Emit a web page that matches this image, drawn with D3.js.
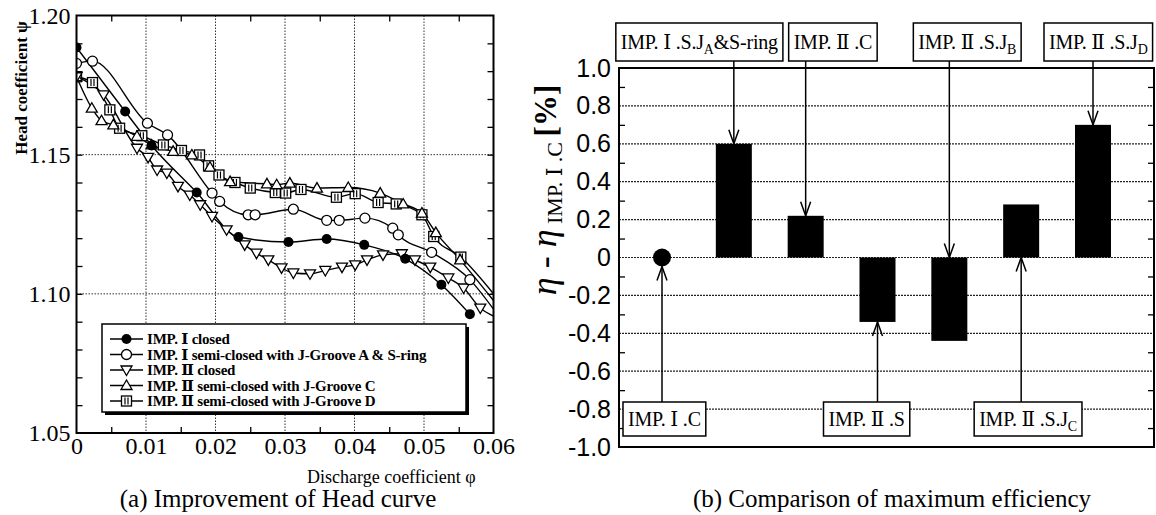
<!DOCTYPE html>
<html>
<head>
<meta charset="utf-8">
<script src="https://cdn.jsdelivr.net/npm/d3@7/dist/d3.min.js"></script>
<style>
body { margin: 0; background: #fff; }
svg { display: block; }
</style>
</head>
<body>
<script>
// ---------- (a) head curves: discharge coefficient phi vs head coefficient psi
var phiClosed1 = [0, 0.0070, 0.0108, 0.0173, 0.0233, 0.0305, 0.0360, 0.0414, 0.0473, 0.0525, 0.0566];
var psiClosed1 = [1.1885, 1.1655, 1.1533, 1.1364, 1.1204, 1.1186, 1.1197, 1.1176, 1.1126, 1.1033, 1.0927];

var phiSemi1A = [0, 0.0023, 0.0102, 0.0131, 0.0195, 0.0206, 0.0247, 0.0257, 0.0312, 0.0360, 0.0378, 0.0415, 0.0455, 0.0463, 0.0511, 0.0566, 0.0600];
var psiSemi1A = [1.1828, 1.1836, 1.1613, 1.1571, 1.1362, 1.1332, 1.1284, 1.1284, 1.1304, 1.1264, 1.1264, 1.1272, 1.1236, 1.1212, 1.1149, 1.1051, 1.0945];

var phiClosed2 = [0, 0.0039, 0.0087, 0.0103, 0.0116, 0.0130, 0.0146, 0.0163, 0.0178, 0.0195, 0.0216, 0.0242, 0.0259, 0.0276, 0.0295, 0.0312, 0.0336, 0.0358, 0.0382, 0.0401, 0.0418, 0.0441, 0.0468, 0.0487, 0.0509, 0.0535, 0.0557, 0.0581, 0.0600];
var psiClosed2 = [1.1780, 1.1715, 1.1523, 1.1490, 1.1445, 1.1434, 1.1386, 1.1355, 1.1320, 1.1278, 1.1230, 1.1176, 1.1146, 1.1122, 1.1093, 1.1075, 1.1072, 1.1084, 1.1096, 1.1104, 1.1122, 1.1140, 1.1144, 1.1122, 1.1096, 1.1057, 1.1021, 1.0949, 1.0920];

var phiSemi2C = [0, 0.0022, 0.0036, 0.0053, 0.0087, 0.0108, 0.0139, 0.0166, 0.0192, 0.0221, 0.0274, 0.0288, 0.0307, 0.0346, 0.0391, 0.0437, 0.0470, 0.0497, 0.0517, 0.0552, 0.0600];
var psiSemi2C = [1.1780, 1.1667, 1.1622, 1.1607, 1.1566, 1.1535, 1.1512, 1.1499, 1.1455, 1.1403, 1.1395, 1.1392, 1.1398, 1.1380, 1.1382, 1.1362, 1.1323, 1.1290, 1.1220, 1.1122, 1.0976];

var phiSemi2D = [0, 0.0023, 0.0048, 0.0062, 0.0094, 0.0125, 0.0151, 0.0177, 0.0190, 0.0205, 0.0228, 0.0250, 0.0286, 0.0301, 0.0323, 0.0374, 0.0401, 0.0434, 0.0460, 0.0497, 0.0514, 0.0553, 0.0600];
var psiSemi2D = [1.1780, 1.1759, 1.1661, 1.1595, 1.1568, 1.1535, 1.1515, 1.1499, 1.1460, 1.1427, 1.1400, 1.1380, 1.1364, 1.1362, 1.1375, 1.1347, 1.1360, 1.1328, 1.1323, 1.1284, 1.1206, 1.1132, 1.1000];

var seriesNames = ["IMP. \u2160 closed", "IMP. \u2160 semi-closed with J-Groove A & S-ring", "IMP. \u2161 closed",
  "IMP. \u2161 semi-closed with J-Groove C", "IMP. \u2161 semi-closed with J-Groove D"];
var seriesMarks = ["dot", "circle", "triDown", "triUp", "square"];

var phiTicks = [0, 0.01, 0.02, 0.03, 0.04, 0.05, 0.06];
var phiTickLabels = ["0", "0.01", "0.02", "0.03", "0.04", "0.05", "0.06"];
var psiTicks = [1.05, 1.10, 1.15, 1.20];
var psiTickLabels = ["1.05", "1.10", "1.15", "1.20"];

// ---------- (b) maximum efficiency difference against IMP. I .C [%]
var cases = ["IMP.I.C", "IMP.I.S.JA&S-ring", "IMP.II.C", "IMP.II.S", "IMP.II.S.JB", "IMP.II.S.JC", "IMP.II.S.JD"];
// label pieces: even index = normal text, odd index = subscript
var caseLabels = [["IMP. \u2160 .C"], ["IMP. \u2160 .S.J", "A", "&S-ring"], ["IMP. \u2161 .C"], ["IMP. \u2161 .S"],
  ["IMP. \u2161 .S.J", "B"], ["IMP. \u2161 .S.J", "C"], ["IMP. \u2161 .S.J", "D"]];
var effDiff = [0, 0.60, 0.22, -0.34, -0.44, 0.28, 0.70];
var effTicks = [1.0, 0.8, 0.6, 0.4, 0.2, 0, -0.2, -0.4, -0.6, -0.8, -1.0];
var effTickLabels = ["1.0", "0.8", "0.6", "0.4", "0.2", "0", "-0.2", "-0.4", "-0.6", "-0.8", "-1.0"];

var serif = "'Liberation Serif','DejaVu Serif',serif";
var sans = "'Liberation Sans',Arial,sans-serif";

var svg = d3.select("body").append("svg")
    .attr("width", 1156).attr("height", 515)
    .style("background", "#fff");

// ======================= (a) =======================
var pa = {left: 76.5, right: 493.5, top: 15.5, bottom: 433};
var x = d3.scaleLinear().domain([0, 0.06]).range([pa.left, pa.right]);
var y = d3.scaleLinear().domain([1.05, 1.20]).range([pa.bottom, pa.top]);
var ga = svg.append("g");

svg.append("defs").append("clipPath").attr("id", "clipA")
  .append("rect").attr("x", pa.left).attr("y", pa.top)
  .attr("width", pa.right - pa.left).attr("height", pa.bottom - pa.top);

// dotted grid
ga.selectAll(".gx").data(phiTicks.slice(1, -1)).enter().append("line")
    .attr("x1", function(d) { return x(d); }).attr("x2", function(d) { return x(d); })
    .attr("y1", pa.top).attr("y2", pa.bottom)
    .attr("stroke", "#333").attr("stroke-width", 1).attr("stroke-dasharray", "1.5,1.5");
ga.selectAll(".gy").data(psiTicks.slice(1, -1)).enter().append("line")
    .attr("y1", function(d) { return y(d); }).attr("y2", function(d) { return y(d); })
    .attr("x1", pa.left).attr("x2", pa.right)
    .attr("stroke", "#333").attr("stroke-width", 1).attr("stroke-dasharray", "1.5,1.5");

// inward minor ticks
var minorPhi = d3.range(0.005, 0.06, 0.01);
var minorPsi = d3.range(1.06, 1.195, 0.01);
function noDomain(g) { g.select(".domain").remove(); g.selectAll("line").attr("stroke-width", 1.3); }
ga.append("g").attr("transform", "translate(0," + pa.bottom + ")")
    .call(d3.axisBottom(x).tickValues(minorPhi).tickSize(-6).tickFormat("")).call(noDomain);
ga.append("g").attr("transform", "translate(0," + pa.top + ")")
    .call(d3.axisTop(x).tickValues(minorPhi).tickSize(-6).tickFormat("")).call(noDomain);
ga.append("g").attr("transform", "translate(" + pa.left + ",0)")
    .call(d3.axisLeft(y).tickValues(minorPsi).tickSize(-6).tickFormat("")).call(noDomain);
ga.append("g").attr("transform", "translate(" + pa.right + ",0)")
    .call(d3.axisRight(y).tickValues(minorPsi).tickSize(-6).tickFormat("")).call(noDomain);

// tick labels
ga.append("g").attr("transform", "translate(0," + (pa.bottom + 1) + ")")
    .call(d3.axisBottom(x).tickValues(phiTicks).tickSize(0)
      .tickFormat(function(d, i) { return phiTickLabels[i]; }))
    .call(function(g) {
      g.select(".domain").remove();
      g.selectAll("text").attr("font-family", serif).attr("font-size", 24).attr("fill", "#000");
    });
ga.append("g").attr("transform", "translate(" + (pa.left - 3) + ",0)")
    .call(d3.axisLeft(y).tickValues(psiTicks).tickSize(0)
      .tickFormat(function(d, i) { return psiTickLabels[i]; }))
    .call(function(g) {
      g.select(".domain").remove();
      g.selectAll("text").attr("font-family", serif).attr("font-size", 24).attr("fill", "#000");
    });

function drawMark(g, type) {
  if (type === "dot") {
    g.append("circle").attr("r", 5).attr("fill", "#000");
  } else if (type === "circle") {
    g.append("circle").attr("r", 5).attr("fill", "#fff").attr("stroke", "#000").attr("stroke-width", 1.3);
  } else if (type === "triDown") {
    g.append("path").attr("d", "M-5.5,-4L5.5,-4L0,5.5Z").attr("fill", "#fff").attr("stroke", "#000").attr("stroke-width", 1.3);
  } else if (type === "triUp") {
    g.append("path").attr("d", "M-5.5,4L5.5,4L0,-5.5Z").attr("fill", "#fff").attr("stroke", "#000").attr("stroke-width", 1.3);
  } else {
    g.append("rect").attr("x", -5).attr("y", -5).attr("width", 10).attr("height", 10)
      .attr("fill", "#fff").attr("stroke", "#000").attr("stroke-width", 1.3);
    g.append("path").attr("d", "M-1.5,-3.5V3.5M1.5,-3.5V3.5").attr("stroke", "#000").attr("stroke-width", 1.2);
  }
}

var seriesData = [[phiClosed1, psiClosed1], [phiSemi1A, psiSemi1A], [phiClosed2, psiClosed2],
  [phiSemi2C, psiSemi2C], [phiSemi2D, psiSemi2D]].map(function(s, k) {
  return {mark: seriesMarks[k], name: seriesNames[k],
    pts: s[0].map(function(p, i) { return {phi: p, psi: s[1][i]}; })};
});

var line = d3.line().x(function(d) { return x(d.phi); }).y(function(d) { return y(d.psi); })
    .curve(d3.curveMonotoneX);

var plotA = ga.append("g").attr("clip-path", "url(#clipA)");
seriesData.forEach(function(s) {
  plotA.append("path").attr("d", line(s.pts)).attr("fill", "none")
    .attr("stroke", "#000").attr("stroke-width", 1.4);
});
// markers on top (points at the frame edge only carry the line)
seriesData.slice().reverse().forEach(function(s) {
  plotA.selectAll(null).data(s.pts.filter(function(d) { return d.phi < 0.0595; })).enter()
    .append("g").attr("transform", function(d) { return "translate(" + x(d.phi) + "," + y(d.psi) + ")"; })
    .each(function() { drawMark(d3.select(this), s.mark); });
});

// frame
ga.append("rect").attr("x", pa.left).attr("y", pa.top)
    .attr("width", pa.right - pa.left).attr("height", pa.bottom - pa.top)
    .attr("fill", "none").attr("stroke", "#000").attr("stroke-width", 2);

// legend
var lg = ga.append("g").attr("transform", "translate(102,324)");
lg.append("rect").attr("x", 3).attr("y", 3).attr("width", 364).attr("height", 88).attr("fill", "#000");
lg.append("rect").attr("width", 364).attr("height", 88).attr("fill", "#fff").attr("stroke", "#000").attr("stroke-width", 1.5);
seriesData.forEach(function(s, i) {
  var row = lg.append("g").attr("transform", "translate(0," + (15 + i * 15.5) + ")");
  row.append("line").attr("x1", 8).attr("x2", 41).attr("stroke", "#000").attr("stroke-width", 1.3);
  drawMark(row.append("g").attr("transform", "translate(24.5,0)"), s.mark);
  row.append("text").attr("x", 45).attr("dy", "0.35em").attr("font-family", serif)
    .attr("font-weight", "bold").attr("font-size", 15).attr("letter-spacing", -0.2).text(s.name);
});

// axis titles and caption
ga.append("text").attr("transform", "translate(27,88) rotate(-90)").attr("text-anchor", "middle")
    .attr("font-family", serif).attr("font-weight", "bold").attr("font-size", 17).text("Head coefficient \u03c8");
ga.append("text").attr("x", 307).attr("y", 483).attr("font-family", serif).attr("font-size", 18)
    .text("Discharge coefficient \u03c6");
ga.append("text").attr("x", 278).attr("y", 507).attr("text-anchor", "middle")
    .attr("font-family", serif).attr("font-size", 25).text("(a) Improvement of Head curve");

// ======================= (b) =======================
var pb = {left: 619, right: 1154, top: 68, bottom: 447};
var yb = d3.scaleLinear().domain([-1, 1]).range([pb.bottom, pb.top]);
var xb = d3.scalePoint().domain(cases).range([662, 1093]);
var gb = svg.append("g");

gb.selectAll(".grid").data(effTicks.slice(1, -1)).enter().append("line")
    .attr("x1", pb.left).attr("x2", pb.right)
    .attr("y1", function(d) { return yb(d); }).attr("y2", function(d) { return yb(d); })
    .attr("stroke", "#222").attr("stroke-width", 1.2).attr("stroke-dasharray", "2,1");

var minorEff = d3.range(-0.9, 1, 0.2);
gb.append("g").attr("transform", "translate(" + pb.left + ",0)")
    .call(d3.axisLeft(yb).tickValues(minorEff).tickSize(-6).tickFormat("")).call(noDomain);
gb.append("g").attr("transform", "translate(" + pb.right + ",0)")
    .call(d3.axisRight(yb).tickValues(minorEff).tickSize(-6).tickFormat("")).call(noDomain);
gb.append("g").attr("transform", "translate(" + (pb.left - 5) + ",0)")
    .call(d3.axisLeft(yb).tickValues(effTicks).tickSize(0)
      .tickFormat(function(d, i) { return effTickLabels[i]; }))
    .call(function(g) {
      g.select(".domain").remove();
      g.selectAll("text").attr("font-family", sans).attr("font-size", 25).attr("fill", "#000");
    });

// bars (the reference case sits on zero and is drawn as a dot)
var effData = cases.map(function(c, i) { return {c: c, v: effDiff[i], label: caseLabels[i]}; });
gb.selectAll(".bar").data(effData.filter(function(d) { return d.v !== 0; })).enter().append("rect")
    .attr("x", function(d) { return xb(d.c) - 18; }).attr("width", 36)
    .attr("y", function(d) { return yb(Math.max(d.v, 0)); })
    .attr("height", function(d) { return Math.abs(yb(d.v) - yb(0)); })
    .attr("fill", "#000");
gb.selectAll(".dot").data(effData.filter(function(d) { return d.v === 0; })).enter().append("circle")
    .attr("cx", function(d) { return xb(d.c); }).attr("cy", yb(0)).attr("r", 9).attr("fill", "#000");

gb.append("rect").attr("x", pb.left).attr("y", pb.top)
    .attr("width", pb.right - pb.left).attr("height", pb.bottom - pb.top)
    .attr("fill", "none").attr("stroke", "#000").attr("stroke-width", 2);

// callout boxes with arrows
var callout = [{side: "bottom", dx: -39}, {side: "top", dx: -118}, {side: "top", dx: -17}, {side: "bottom", dx: -54},
  {side: "top", dx: -36}, {side: "bottom", dx: -47}, {side: "top", dx: -49}];
effData.forEach(function(d, i) {
  var cx = xb(d.c), co = callout[i];
  var top = co.side === "top";
  var by = top ? 23 : 402, bh = top ? 38 : 34;
  var tip;
  if (top) tip = yb(Math.max(d.v, 0));
  else tip = d.v === 0 ? yb(0) + 9 : yb(Math.min(d.v, 0));
  var sy = top ? by + bh : by;
  var dir = top ? -1 : 1;
  gb.append("line").attr("x1", cx).attr("x2", cx).attr("y1", sy).attr("y2", tip)
    .attr("stroke", "#000").attr("stroke-width", 1.5);
  gb.append("path").attr("d", "M" + (cx - 5) + "," + (tip + dir * 14) + "L" + cx + "," + tip + "L" + (cx + 5) + "," + (tip + dir * 14))
    .attr("fill", "none").attr("stroke", "#000").attr("stroke-width", 1.5);

  var box = gb.append("rect").attr("y", by).attr("height", bh)
    .attr("fill", "#fff").attr("stroke", "#000").attr("stroke-width", 1.5);
  var t = gb.append("text").attr("y", by + bh / 2).attr("dy", "0.35em")
    .attr("font-family", serif).attr("font-size", 20).attr("letter-spacing", -0.2);
  d.label.forEach(function(part, k) {
    if (k % 2 === 1) t.append("tspan").attr("dy", 5).attr("font-size", 14).text(part);
    else t.append("tspan").attr("dy", k > 0 ? -5 : null).text(part);
  });
  var w = t.node().getComputedTextLength();
  var bx0 = cx + co.dx;
  box.attr("x", bx0).attr("width", w + 10);
  t.attr("x", bx0 + 5);
});

// y title
var yt = gb.append("text").attr("transform", "translate(556,190) rotate(-90)").attr("text-anchor", "middle")
    .attr("font-family", serif);
yt.append("tspan").attr("font-size", 36).attr("font-style", "italic").text("\u03b7");
yt.append("tspan").attr("font-size", 36).text(" - ");
yt.append("tspan").attr("font-size", 36).attr("font-style", "italic").text("\u03b7");
yt.append("tspan").attr("font-size", 22).attr("dy", 6).text(" IMP. \u2160 .C ");
yt.append("tspan").attr("font-size", 31).attr("font-weight", "bold").attr("dy", -6).text("[%]");

gb.append("text").attr("x", 892).attr("y", 507).attr("text-anchor", "middle")
    .attr("font-family", serif).attr("font-size", 25).text("(b) Comparison of maximum efficiency");
</script>
</body>
</html>
